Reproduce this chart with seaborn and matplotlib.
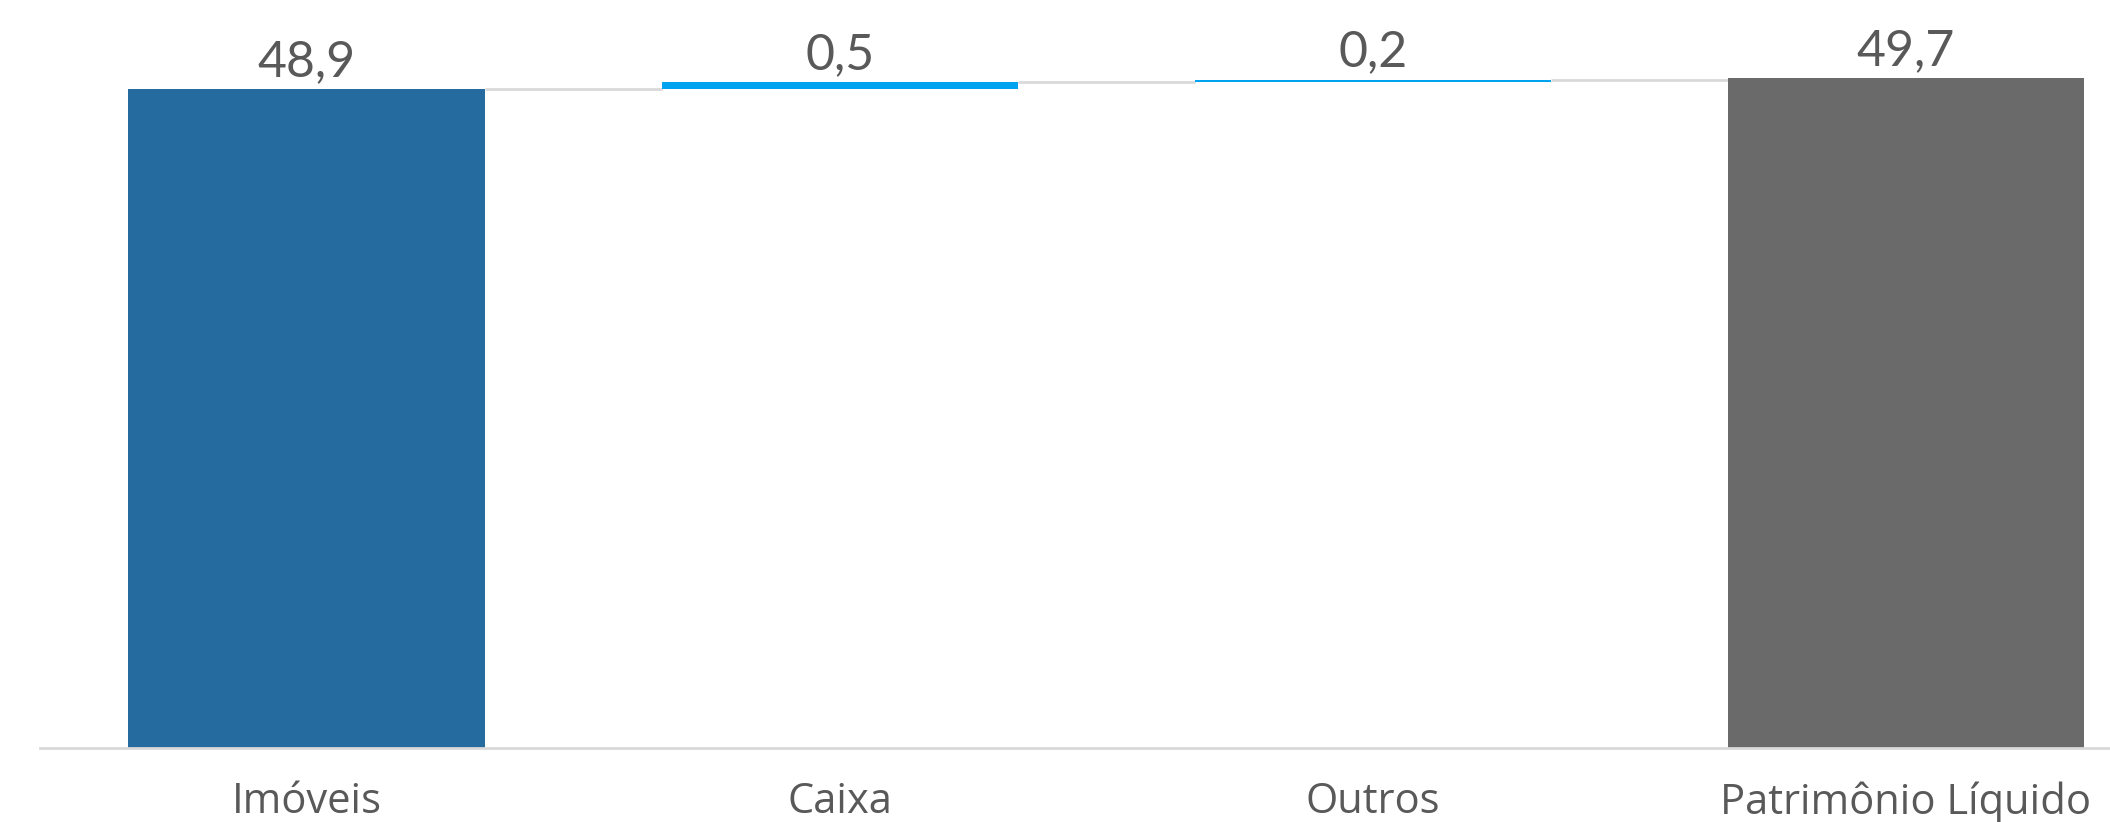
import numpy as np
import pandas as pd
from matplotlib import pyplot as plt
import seaborn as sns

categorias = ['Imóveis', 'Caixa', 'Outros', 'Patrimônio Líquido']
valores = [48.9, 0.5, 0.2, 49.7]
base = [0.0, 48.9, 49.4, 0.0]
rotulos = ['48,9', '0,5', '0,2', '49,7']
cores = ['#256ba0', '#00a3f0', '#00a3f0', '#6a6a6a']

sns.set_theme(style='white')
plt.rcParams['font.family'] = ['Open Sans', 'DejaVu Sans']

df = pd.DataFrame({'categoria': categorias, 'valor': valores, 'base': base})

fig = plt.figure(figsize=(21.1, 8.22), dpi=100)
ax = fig.add_axes([40 / 2110, 74 / 822, 1 - 40 / 2110, 748 / 822])

# uma única série, com as barras flutuantes apoiadas em "base"
sns.barplot(data=df, x='categoria', y='valor', order=categorias,
            bottom=df['base'].values, width=0.668, saturation=1,
            color=cores[0], ax=ax, zorder=2)
patches = sorted(ax.patches, key=lambda p: p.get_x())
for p, c in zip(patches, cores):
    p.set_facecolor(c)
    p.set_edgecolor('none')

# linhas de ligação entre as barras
for p, q in zip(patches[:-1], patches[1:]):
    nivel = p.get_y() + p.get_height()
    ax.plot([p.get_x() + p.get_width(), q.get_x()], [nivel, nivel],
            color='#d9d9d9', lw=2, zorder=1, solid_capstyle='butt')

for p, txt in zip(patches, rotulos):
    topo = p.get_y() + p.get_height()
    ax.annotate(txt, (p.get_x() + p.get_width() / 2, topo), xytext=(0, 9.5),
                textcoords='offset points', ha='center', va='baseline',
                fontsize=36, color='#595959', family=['Lato', 'DejaVu Sans'])

ax.set_xlim(-0.5, 3.383)
ax.set_ylim(0, 55.5)
ax.set_yticks([])
ax.set_xlabel('')
ax.set_ylabel('')
for s in ['top', 'left', 'right']:
    ax.spines[s].set_visible(False)
ax.spines['bottom'].set_color('#d9d9d9')
ax.spines['bottom'].set_linewidth(2)
ax.tick_params(axis='x', length=0, pad=24, labelsize=30, labelcolor='#595959')

fig.savefig('out.png', dpi=100)
